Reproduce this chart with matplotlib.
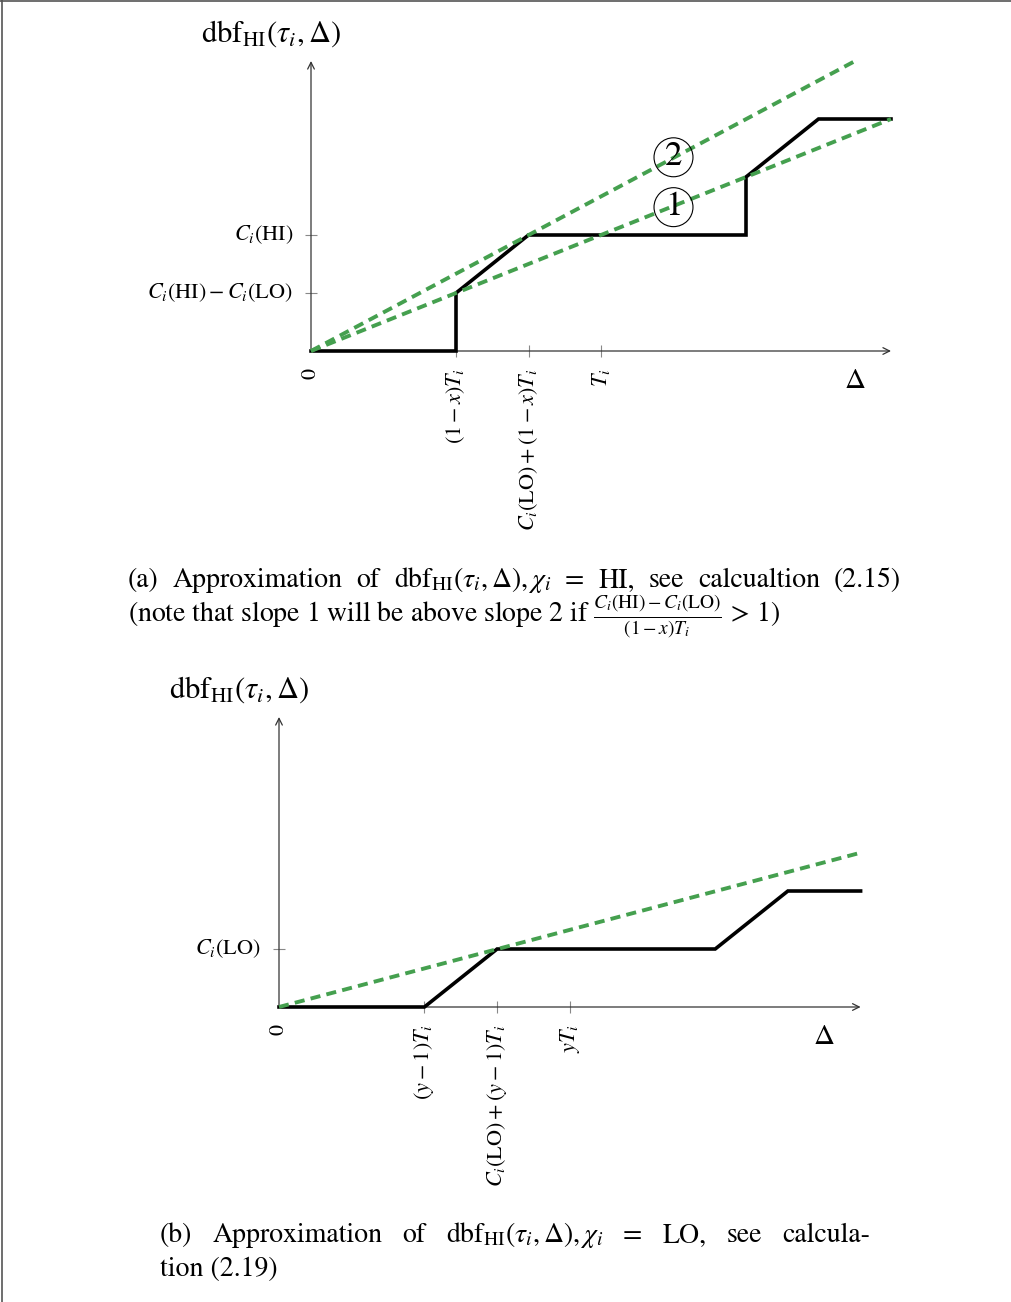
import matplotlib.pyplot as plt
from matplotlib.lines import Line2D

plt.rcParams['font.family'] = ['STIXGeneral', 'DejaVu Serif']
plt.rcParams['mathtext.fontset'] = 'stix'

W, H = 1012, 1302

# panel (a): dbf for chi_i = HI
a_step_x = [0, 2, 2, 3, 6, 6, 7, 8]
a_step_y = [0, 0, 1, 2, 2, 3, 4, 4]
a_slope1_x = [0, 8]
a_slope1_y = [0, 4]
a_slope2_x = [0, 7.55]
a_slope2_y = [0, 5.03]
a_xticks = [2, 3, 4]
a_xlabels = [r'$(1-x)T_i$', r'$C_i(\mathrm{LO})+(1-x)T_i$', r'$T_i$']
a_yticks = [1, 2]
a_ylabels = [r'$C_i(\mathrm{HI})-C_i(\mathrm{LO})$', r'$C_i(\mathrm{HI})$']
a_marks = [('2', 5.0, 3.34), ('1', 5.0, 2.48)]

# panel (b): dbf for chi_i = LO
b_step_x = [0, 2, 3, 6, 7, 8]
b_step_y = [0, 0, 1, 1, 2, 2]
b_slope_x = [0, 8]
b_slope_y = [0, 2.66]
b_xticks = [2, 3, 4]
b_xlabels = [r'$(y-1)T_i$', r'$C_i(\mathrm{LO})+(y-1)T_i$', r'$yT_i$']
b_yticks = [1]
b_ylabels = [r'$C_i(\mathrm{LO})$']

DBF = r'$\mathrm{dbf}_{\mathrm{HI}}(\tau_i,\Delta),$'
cap_a1 = ['(a)', 'Approximation', 'of', DBF + r'$\chi_i$', '=', 'HI,', 'see',
          'calcualtion', '(2.15)']
cap_a2 = ('(note that slope 1 will be above slope 2 if '
          r'$\frac{C_i(\mathrm{HI})-C_i(\mathrm{LO})}{(1-x)T_i}$ > 1)')
cap_b1 = ['(b)', 'Approximation', 'of', DBF + r'$\chi_i$', '=', 'LO,', 'see', 'calcula-']
cap_b2 = 'tion (2.19)'

GREEN = '#45a04f'
GRAY = '#888888'
TICK_FS = 16
CAP_FS = 20

fig = plt.figure(figsize=(W / 100, H / 100), dpi=100)
renderer = fig.canvas.get_renderer()


def fx(px):
    return px / W


def fy(py):
    return 1 - py / H


def panel(ox, oy, sx, sy):
    # full-figure axes, origin at pixel (ox, oy), sx/sy px per unit
    ax = fig.add_axes([0, 0, 1, 1])
    ax.set_xlim(-ox / sx, (W - ox) / sx)
    ax.set_ylim((oy - H) / sy, oy / sy)
    ax.axis('off')
    ax.patch.set_alpha(0)
    return ax


def justify(words, left, right, base, fs):
    # place words so the line fills left..right like a justified paragraph
    texts = [fig.text(fx(left), fy(base), w, fontsize=fs, ha='left', va='baseline')
             for w in words]
    widths = [t.get_window_extent(renderer).width for t in texts]
    gap = (right - left - sum(widths)) / (len(words) - 1)
    x = left
    for t, w in zip(texts, widths):
        t.set_x(fx(x))
        x += w + gap


def draw(ax, sx_, sy_, lines, xt, xl, yt, yl, xmax, ymax, delta_x):
    for tip in [(xmax, 0), (0, ymax)]:
        ax.annotate('', xy=tip, xytext=(0, 0),
                    arrowprops=dict(arrowstyle='->', lw=0.9, color='#333333',
                                    shrinkA=0, shrinkB=0, mutation_scale=12))
    ax.plot(xt, [0] * len(xt), ls='none', marker='|', ms=9, mew=0.8, color=GRAY)
    ax.plot([0] * len(yt), yt, ls='none', marker='_', ms=9, mew=0.8, color=GRAY)
    ax.plot(sx_, sy_, color='black', lw=2.6, solid_joinstyle='miter', zorder=3)
    for ex, ey in lines:
        ax.plot(ex, ey, color=GREEN, lw=2.8, dashes=(2.6, 1.6), zorder=4)
    for t, lab in zip(xt, xl):
        ax.text(t, -0.3, lab, rotation=90, ha='center', va='top', fontsize=TICK_FS)
    for t, lab in zip(yt, yl):
        ax.text(-0.25, t, lab, ha='right', va='center', fontsize=TICK_FS)
    ax.text(0, -0.3, '0', rotation=90, ha='center', va='top', fontsize=TICK_FS)
    ax.text(delta_x, -0.52, r'$\Delta$', ha='center', va='center', fontsize=21)


# frame
fig.add_artist(Line2D([0.002, 0.002], [0, 1], color='#555555', lw=1.2))
fig.add_artist(Line2D([0, 1], [0.9995, 0.9995], color='#555555', lw=1.2))

ax_a = panel(311, 351, 72.5, 58)
draw(ax_a, a_step_x, a_step_y, [(a_slope1_x, a_slope1_y), (a_slope2_x, a_slope2_y)],
     a_xticks, a_xlabels, a_yticks, a_ylabels, 8, 5, 7.5)
for lab, mx, my in a_marks:
    ax_a.text(mx, my, lab, ha='center', va='center', fontsize=25, zorder=5,
              bbox=dict(boxstyle='circle,pad=0.1', fc='none', ec='black', lw=0.8))

ax_b = panel(279, 1007, 72.7, 58)
draw(ax_b, b_step_x, b_step_y, [(b_slope_x, b_slope_y)],
     b_xticks, b_xlabels, b_yticks, b_ylabels, 8, 5, 7.5)

# y-axis titles
fig.text(fx(201), fy(42), r'$\mathrm{dbf}_{\mathrm{HI}}(\tau_i,\Delta)$', fontsize=22,
         ha='left', va='baseline')
fig.text(fx(169), fy(698), r'$\mathrm{dbf}_{\mathrm{HI}}(\tau_i,\Delta)$', fontsize=22,
         ha='left', va='baseline')

# captions
justify(cap_a1, 128, 901, 587, CAP_FS)
fig.text(fx(128), fy(622), cap_a2, fontsize=CAP_FS, ha='left', va='baseline')
justify(cap_b1, 160, 870, 1242, CAP_FS)
fig.text(fx(160), fy(1276), cap_b2, fontsize=CAP_FS, ha='left', va='baseline')

fig.savefig('out.png', dpi=100)
